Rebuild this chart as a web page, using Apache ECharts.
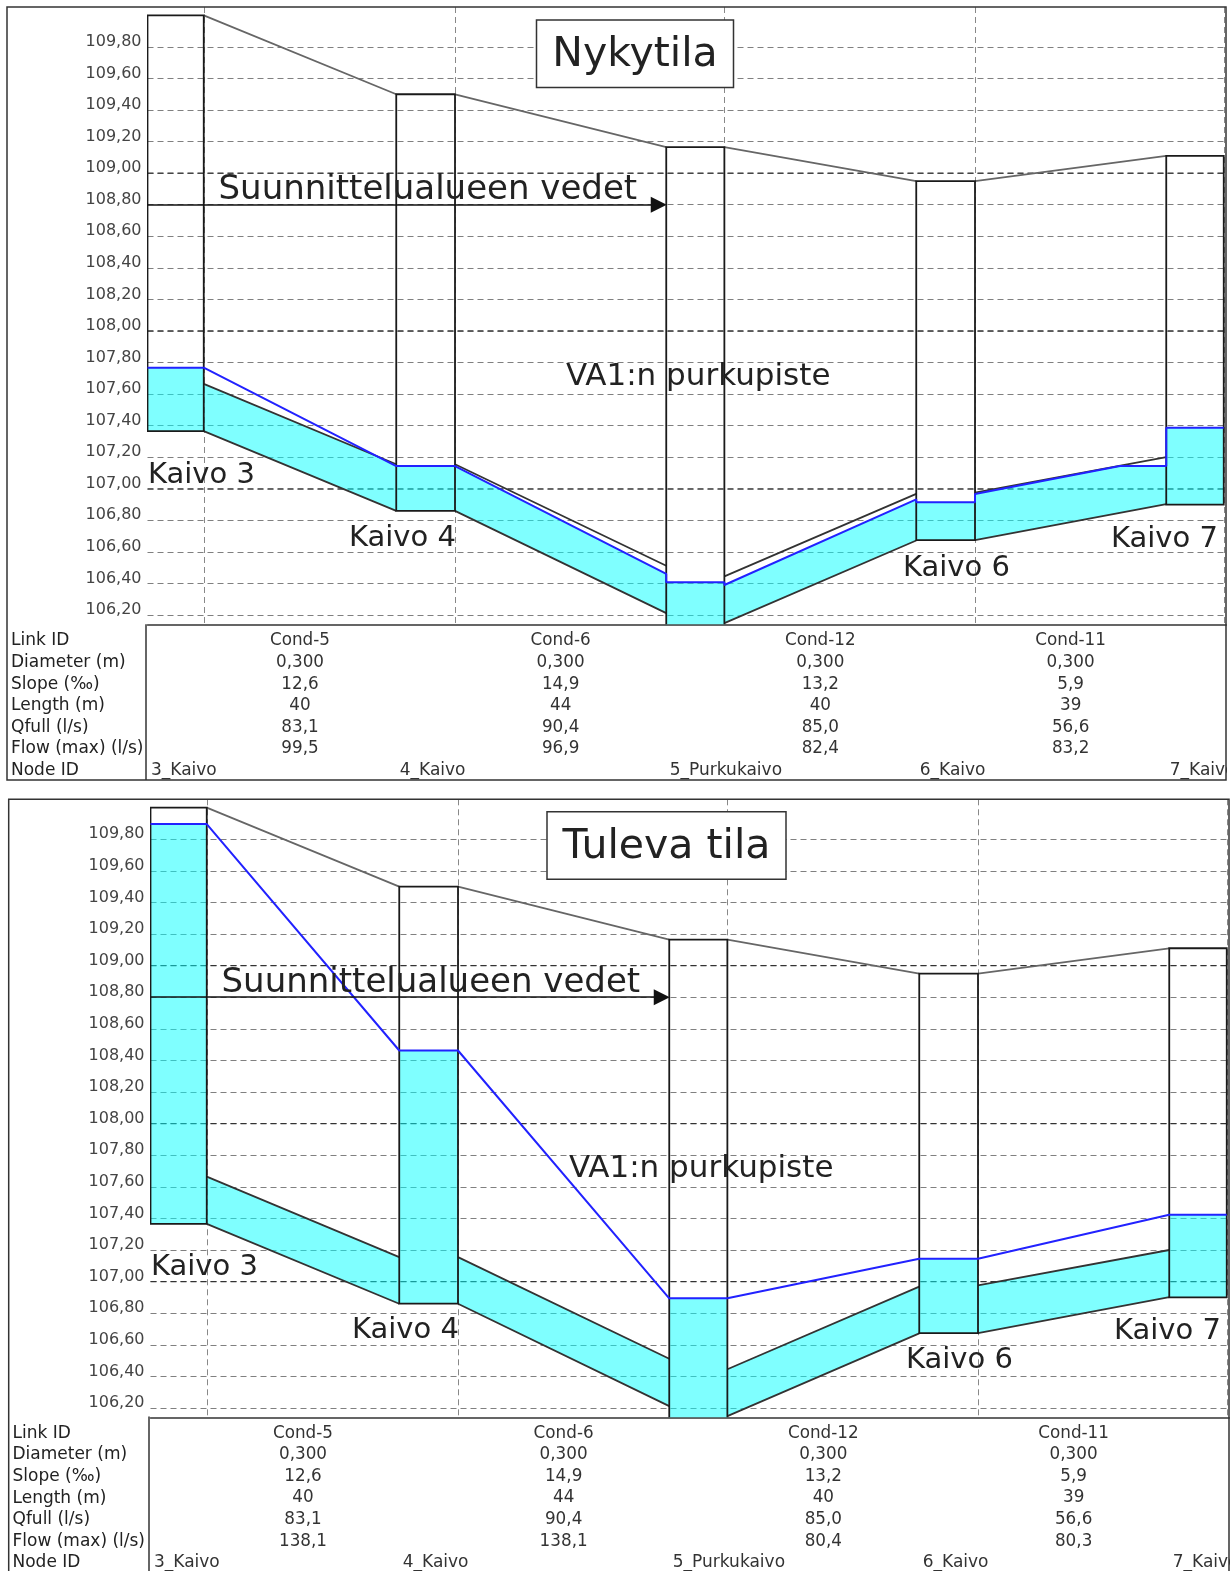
<!DOCTYPE html>
<html>
<head>
<meta charset="utf-8">
<title>Nykytila / Tuleva tila</title>
<script src="https://cdn.jsdelivr.net/npm/echarts@6/dist/echarts.min.js"></script>
<style>
  body { margin: 0; background: #fff; }
  #main { width: 1230px; height: 1571px; }
</style>
</head>
<body>
<div id="main"></div>
<script>
// y ticks (m), stations along the line (m)
const yTicks = [106.2,106.4,106.6,106.8,107,107.2,107.4,107.6,107.8,108,108.2,108.4,108.6,108.8,109,109.2,109.4,109.6,109.8];
const majorLevels = [107, 108, 109];
const wellLeft  = [-9, 30.8, 74, 114, 154];
const wellRight = [0, 40.2, 83.3, 123.4, 163.2];

// wells
const wellTop    = [110.0, 109.5, 109.165, 108.95, 109.11];
const wellBottom = [107.365, 106.86, 106.1, 106.674, 106.9];

// pipes between wells: [upstream, downstream] levels
const crownLevels  = [[107.665, 107.155], [107.155, 106.512], [106.445, 106.968], [106.976, 107.2]];
const invertLevels = [[107.365, 106.86], [106.86, 106.212], [106.148, 106.672], [106.674, 106.902]];

// water level in the wells
const waterNow    = [107.767, 107.144, 106.407, 106.914, 107.387];
const waterFuture = [109.896, 108.463, 106.894, 107.145, 107.423];

// water line in the pipes
const pipeWaterNow = [
  [[0, 107.767], [30.8, 107.144]],
  [[40.2, 107.144], [74, 106.46]],
  [[83.3, 106.39], [114, 106.933]],
  [[123.4, 106.967], [146.6, 107.144], [154, 107.144]]
];
const pipeWaterFuture = [
  [[0, 109.896], [30.8, 108.463]],
  [[40.2, 108.463], [74, 106.894]],
  [[83.3, 106.894], [114, 107.145]],
  [[123.4, 107.145], [154, 107.423]]
];

// top edge of the cyan fill in the pipes
const pipeFillNow = [
  [[0, 107.665], [30.8, 107.155]],
  [[40.2, 107.144], [74, 106.46]],
  [[83.3, 106.39], [114, 106.933]],
  [[123.4, 106.967], [146.6, 107.144], [154, 107.144]]
];
const pipeFillFuture = [
  [[0, 107.665], [30.8, 107.155]],
  [[40.2, 107.155], [74, 106.512]],
  [[83.3, 106.445], [114, 106.968]],
  [[123.4, 106.976], [154, 107.2]]
];

// table
const rowNames = ['Link ID', 'Diameter (m)', 'Slope (‰)', 'Length (m)', 'Qfull (l/s)', 'Flow (max) (l/s)', 'Node ID'];
const linkIds = ['Cond-5', 'Cond-6', 'Cond-12', 'Cond-11'];
const diameters = ['0,300', '0,300', '0,300', '0,300'];
const slopes = ['12,6', '14,9', '13,2', '5,9'];
const lengths = ['40', '44', '40', '39'];
const qfull = ['83,1', '90,4', '85,0', '56,6'];
const flowNow = ['99,5', '96,9', '82,4', '83,2'];
const flowFuture = ['138,1', '138,1', '80,4', '80,3'];
const nodeIds = ['3_Kaivo', '4_Kaivo', '5_Purkukaivo', '6_Kaivo', '7_Kaivo'];

const FONT = '"DejaVu Sans", Verdana, sans-serif';
const TEXT = '#222';
const LINE = '#1a1a1a';
const X_MIN = -9, X_MAX = 163.6, Y_MIN = 106.141, Y_MAX = 110.053;
const ARROW_END = 72.8;

const chart = echarts.init(document.getElementById('main'));

function gap(list) {
  // flat list of points with a break between the segments
  const out = [];
  list.forEach(function (seg) {
    seg.forEach(function (p) { out.push(p); });
    out.push([null, null]);
  });
  return out;
}

function pipeSegments(levels) {
  return levels.map(function (l, i) {
    return [[wellRight[i], l[0]], [wellLeft[i + 1], l[1]]];
  });
}

function makeSeries(idx, water, pipeWater, pipeFill) {
  const base = { xAxisIndex: idx, yAxisIndex: idx };
  const lineBase = Object.assign({ type: 'line', symbol: 'none', silent: true, animation: false, clip: true }, base);
  const groundSegs = wellTop.slice(1).map(function (v, i) {
    return [[wellRight[i], wellTop[i]], [wellLeft[i + 1], v]];
  });
  const waterLine = [];
  water.forEach(function (w, i) {
    waterLine.push([wellLeft[i], w], [wellRight[i], w]);
    if (pipeWater[i]) pipeWater[i].forEach(function (p) { waterLine.push(p); });
  });

  return [
    // darker dashed levels at full metres
    Object.assign({}, lineBase, {
      data: gap(majorLevels.map(function (v) { return [[X_MIN, v], [X_MAX, v]]; })),
      lineStyle: { color: '#333', width: 1.2, type: [6, 4] },
      z: 1
    }),
    // pipe fill
    Object.assign({}, base, {
      type: 'custom', clip: true, silent: true, animation: false, z: 2,
      data: pipeFill.map(function (_, i) { return i; }),
      renderItem: function (params, api) {
        const i = api.value(0);
        const pts = pipeFill[i].map(function (p) { return api.coord(p); });
        pts.push(api.coord([wellLeft[i + 1], invertLevels[i][1]]));
        pts.push(api.coord([wellRight[i], invertLevels[i][0]]));
        return { type: 'polygon', shape: { points: pts }, style: { fill: 'rgba(0,255,255,0.5)' } };
      }
    }),
    // wells
    Object.assign({}, base, {
      type: 'custom', clip: true, silent: true, animation: false, z: 5,
      data: wellTop.map(function (_, i) { return i; }),
      renderItem: function (params, api) {
        const i = api.value(0);
        const a = api.coord([wellLeft[i], wellTop[i]]);
        const b = api.coord([wellRight[i], wellBottom[i]]);
        const w = api.coord([wellLeft[i], water[i]]);
        return {
          type: 'group',
          children: [
            { type: 'rect', shape: { x: a[0], y: w[1], width: b[0] - a[0], height: b[1] - w[1] }, style: { fill: 'rgba(0,255,255,0.5)' } },
            { type: 'rect', shape: { x: a[0], y: a[1], width: b[0] - a[0], height: b[1] - a[1] }, style: { fill: 'none', stroke: LINE, lineWidth: 1.8 } }
          ]
        };
      }
    }),
    Object.assign({}, lineBase, {
      data: gap(groundSegs),
      lineStyle: { color: '#666', width: 1.8 },
      z: 4
    }),
    Object.assign({}, lineBase, {
      data: gap(pipeSegments(crownLevels)),
      lineStyle: { color: '#333', width: 1.8 },
      z: 4
    }),
    Object.assign({}, lineBase, {
      data: gap(pipeSegments(invertLevels)),
      lineStyle: { color: '#333', width: 1.8 },
      z: 4
    }),
    Object.assign({}, lineBase, {
      data: waterLine,
      lineStyle: { color: '#2222ff', width: 2 },
      z: 6
    }),
    // arrow, as a line of its own so its head draws over the wells
    Object.assign({}, lineBase, {
      data: [],
      z: 7,
      markLine: {
        silent: true, animation: false, z: 7,
        symbol: ['none', 'triangle'], symbolSize: 16,
        label: { show: false },
        lineStyle: { color: '#111', width: 1.6, type: 'solid' },
        data: [[{ coord: [X_MIN, 108.8] }, { coord: [ARROW_END, 108.8] }]]
      }
    })
  ];
}

function makeXAxis(idx) {
  return {
    type: 'value', gridIndex: idx, min: X_MIN, max: X_MAX,
    axisLine: { show: true, onZero: false, lineStyle: { color: '#333', width: 1.5 } },
    axisTick: { show: false, customValues: wellRight },
    axisLabel: { show: false, customValues: wellRight },
    splitLine: { show: true, lineStyle: { color: '#888', width: 1, type: [6, 4] } }
  };
}

function makeYAxis(idx) {
  return {
    type: 'value', gridIndex: idx, min: Y_MIN, max: Y_MAX,
    axisLine: { show: false },
    axisTick: { show: false, customValues: yTicks },
    axisLabel: {
      customValues: yTicks, margin: 6, fontFamily: FONT, fontSize: 16, color: '#444',
      verticalAlign: 'bottom', lineHeight: 10,
      formatter: function (v) { return v.toFixed(2).replace('.', ','); }
    },
    splitLine: { show: true, lineStyle: { color: '#808080', width: 1.2, type: [6, 4] } }
  };
}

chart.setOption({
  animation: false,
  backgroundColor: '#fff',
  grid: [
    { left: 147.5, top: 7, width: 1078.75, height: 617.3 },
    { left: 150.5, top: 799.3, width: 1078.75, height: 618 }
  ],
  xAxis: [makeXAxis(0), makeXAxis(1)],
  yAxis: [makeYAxis(0), makeYAxis(1)],
  series: makeSeries(0, waterNow, pipeWaterNow, pipeFillNow)
    .concat(makeSeries(1, waterFuture, pipeWaterFuture, pipeFillFuture))
});

function label(x, y, text, size, extra) {
  return {
    type: 'text', z: 20, silent: true, x: x, y: y,
    style: Object.assign({
      text: text, fontFamily: FONT, fontSize: size, fill: TEXT,
      textAlign: 'left', textVerticalAlign: 'middle'
    }, extra || {})
  };
}

function frameRect(x, y, w, h, extra) {
  return {
    type: 'rect', z: 19, silent: true,
    shape: { x: x, y: y, width: w, height: h },
    style: Object.assign({ fill: 'none', stroke: '#333', lineWidth: 1.5 }, extra || {})
  };
}

function panelGraphics(idx, title, flow, dx, dy, frameLeft, frameRight, frameBottom, box) {
  const out = [];
  out.push(frameRect(frameLeft, 7 + dy, frameRight - frameLeft, frameBottom - 7 - dy));
  out.push({
    type: 'line', z: 19, silent: true,
    shape: { x1: 146 + dx, y1: 624.3 + dy, x2: 146 + dx, y2: frameBottom },
    style: { stroke: '#333', lineWidth: 1.5 }
  });

  // title box
  out.push(frameRect(box[0], box[1], box[2], box[3], { fill: '#fff' }));
  out.push(label(box[0] + box[2] / 2, box[1] + box[3] / 2 + 2, title, 41, { textAlign: 'center' }));

  // text on the plot
  out.push(label(218.5 + dx, 190.5 + dy, 'Suunnittelualueen vedet', 34));
  out.push(label(566 + dx, 376.5 + dy, 'VA1:n purkupiste', 31));
  out.push(label(148 + dx, 475 + dy, 'Kaivo 3', 29));
  out.push(label(349 + dx, 538 + dy, 'Kaivo 4', 29));
  out.push(label(903 + dx, 568 + dy, 'Kaivo 6', 29));
  out.push(label(1111 + dx, 539 + dy, 'Kaivo 7', 29));

  // table
  const rows = [linkIds, diameters, slopes, lengths, qfull, flow];
  rowNames.forEach(function (name, r) {
    const y = 641 + r * 21.6 + dy;
    out.push(label(11 + dx * 0.5, y, name, 17));
    if (r < rows.length) {
      rows[r].forEach(function (t, c) {
        const mid = (wellRight[c] + wellLeft[c + 1]) / 2;
        const px = chart.convertToPixel({ xAxisIndex: idx }, mid);
        out.push(label(px, y, t, 16.8, { textAlign: 'center', fill: '#333' }));
      });
    } else {
      nodeIds.forEach(function (t, c) {
        const px = chart.convertToPixel({ xAxisIndex: idx }, wellLeft[c]);
        out.push(label(px + 3.5, y, t, 17, { fill: '#333' }));
      });
    }
  });
  return out;
}

const graphics = panelGraphics(0, 'Nykytila', flowNow, 0, 0, 7, 1226, 780, [536.5, 20, 197, 67.5])
  .concat(panelGraphics(1, 'Tuleva tila', flowFuture, 3, 792.3, 8.7, 1229, 1580, [547, 811.7, 239, 67.5]));

// white strip so the last node label is cut at the frame, like in the picture
graphics.push({
  type: 'rect', z: 18, silent: true,
  shape: { x: 1226, y: 626, width: 4, height: 155 },
  style: { fill: '#fff' }
});
graphics.push({
  type: 'rect', z: 21, silent: true,
  shape: { x: 1227, y: 750, width: 3, height: 29 },
  style: { fill: '#fff' }
});

chart.setOption({ graphic: { elements: graphics } });
</script>
</body>
</html>
